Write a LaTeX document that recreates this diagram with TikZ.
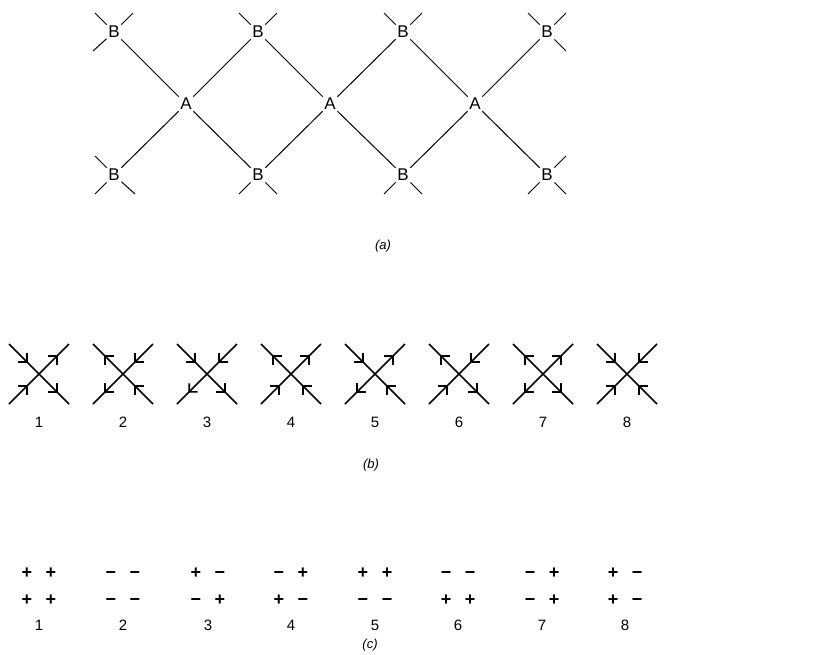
\documentclass[tikz,border=0pt]{standalone}
\usepackage{fontspec}
\setmainfont{Liberation Sans}
\usetikzlibrary{arrows.meta,decorations.markings,calc}

\begin{document}
\begin{tikzpicture}[x=1pt,y=-1pt,
  lat/.style={line width=1pt},
  letter/.style={font=\fontsize{17}{17}\selectfont, inner sep=1.5pt},
  arm/.style={line width=1.6pt},
  armout/.style={arm,postaction={decorate},decoration={markings,mark=at position 0.62 with {\arrow{Straight Barb[length=6pt,width=12pt]}}}},
  armin/.style={arm,postaction={decorate},decoration={markings,mark=at position 0.38 with {\arrowreversed{Straight Barb[length=6pt,width=12pt]}}}},
  num/.style={font=\fontsize{15}{15}\selectfont, inner sep=0pt},
  signtxt/.style={font=\fontsize{18}{18}\selectfont\bfseries, inner sep=0pt, anchor=base},
  partlabel/.style={font=\fontsize{13}{13}\selectfont\itshape, inner sep=0pt}
]
\useasboundingbox (0,0) rectangle (837,654);

% ---------- (a) ----------
\foreach \n/\x in {1/114,2/258,3/403,4/547}{
  \node[letter] (Bt\n) at (\x,32) {B};
  \node[letter] (Bb\n) at (\x,175) {B};
}
\foreach \n/\x in {1/186,2/330,3/475}{
  \node[letter] (A\n) at (\x,104) {A};
}
\draw[lat] (Bt1) -- (A1) -- (Bt2) -- (A2) -- (Bt3) -- (A3) -- (Bt4);
\draw[lat] (Bb1) -- (A1) -- (Bb2) -- (A2) -- (Bb3) -- (A3) -- (Bb4);
% stubs
\draw[lat] (Bt1) -- ($(Bt1)+(-19,-19)$);
\draw[lat] (Bt1) -- ($(Bt1)+(19,-19)$);
\draw[lat] (Bt1) -- ($(Bt1)+(-21,19)$);
\foreach \n in {2,3}{
  \draw[lat] (Bt\n) -- ($(Bt\n)+(-19,-19)$);
  \draw[lat] (Bt\n) -- ($(Bt\n)+(19,-19)$);
  \draw[lat] (Bb\n) -- ($(Bb\n)+(-19,19)$);
  \draw[lat] (Bb\n) -- ($(Bb\n)+(19,19)$);
}
\draw[lat] (Bt4) -- ($(Bt4)+(-19,-19)$);
\draw[lat] (Bt4) -- ($(Bt4)+(19,-19)$);
\draw[lat] (Bt4) -- ($(Bt4)+(19,19)$);
\draw[lat] (Bb1) -- ($(Bb1)+(-19,-19)$);
\draw[lat] (Bb1) -- ($(Bb1)+(-19,19)$);
\draw[lat] (Bb1) -- ($(Bb1)+(21,19)$);
\draw[lat] (Bb4) -- ($(Bb4)+(19,-19)$);
\draw[lat] (Bb4) -- ($(Bb4)+(-19,19)$);
\draw[lat] (Bb4) -- ($(Bb4)+(19,19)$);
\node[partlabel] (la) at (383,246) {(a)};

% ---------- (b) ----------
% index, x, then styles for NW, NE, SW, SE arms
\foreach \n/\x/\nw/\ne/\sw/\se in {
  1/39/armin/armout/armin/armout,
  2/123/armout/armin/armout/armin,
  3/207/armin/armin/armout/armout,
  4/291/armout/armout/armin/armin,
  5/375/armin/armout/armout/armin,
  6/459/armout/armin/armin/armout,
  7/543/armout/armout/armout/armout,
  8/627/armin/armin/armin/armin}{
  \coordinate (v\n) at (\x,374);
  \draw[\nw] (v\n) -- ($(v\n)+(-30,-30)$);
  \draw[\ne] (v\n) -- ($(v\n)+(30,-30)$);
  \draw[\sw] (v\n) -- ($(v\n)+(-30,30)$);
  \draw[\se] (v\n) -- ($(v\n)+(30,30)$);
  \node[num] (nb\n) at (\x,422) {\n};
}
\node[partlabel] (lb) at (371,465) {(b)};

% ---------- (c) ----------
\foreach \n/\x/\a/\b/\c/\d in {
  1/39/+/+/+/+,
  2/123/−/−/−/−,
  3/208/+/−/−/+,
  4/291/−/+/+/−,
  5/375/+/+/−/−,
  6/458/−/−/+/+,
  7/542/−/+/−/+,
  8/625/+/−/+/−}{
  \node[signtxt] (c\n a) at ($(\x,578)+(-12,0)$) {\a};
  \node[signtxt] (c\n b) at ($(\x,578)+(12,0)$) {\b};
  \node[signtxt] (c\n c) at ($(\x,605)+(-12,0)$) {\c};
  \node[signtxt] (c\n d) at ($(\x,605)+(12,0)$) {\d};
  \node[num] (nc\n) at (\x,625) {\n};
}
\node[partlabel] (lc) at (370,645) {(c)};
\end{tikzpicture}
\end{document}
